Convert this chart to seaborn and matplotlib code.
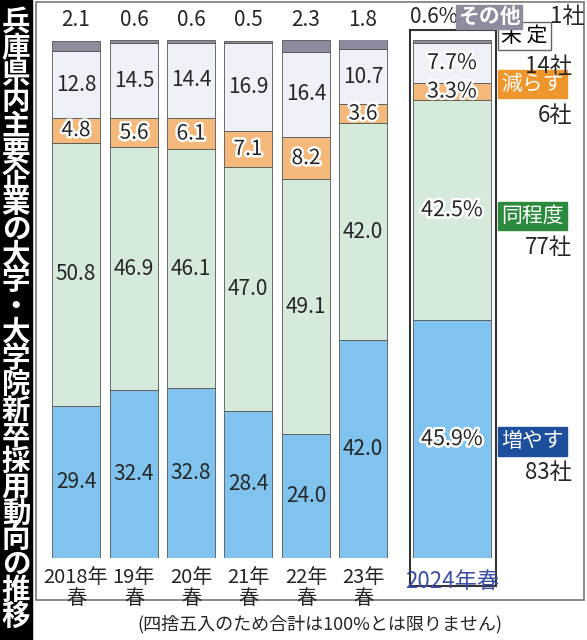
import numpy as np
import matplotlib.pyplot as plt
import matplotlib.patheffects as pe
import seaborn as sns

sns.set_style("white")
plt.rcParams['font.family'] = ['Noto Sans CJK JP', 'DejaVu Sans']

years = ["2018年\n春", "19年\n春", "20年\n春", "21年\n春", "22年\n春", "23年\n春"]
inc = [29.4, 32.4, 32.8, 28.4, 24.0, 42.0]
same = [50.8, 46.9, 46.1, 47.0, 49.1, 42.0]
dec = [4.8, 5.6, 6.1, 7.1, 8.2, 3.6]
undec = [12.8, 14.5, 14.4, 16.9, 16.4, 10.7]
other = [2.1, 0.6, 0.6, 0.5, 2.3, 1.8]
v2024 = [45.9, 42.5, 3.3, 7.7, 0.6]
n2024 = [83, 77, 6, 14, 1]
cats = ["増やす", "同程度", "減らす", "未定", "その他"]
colors = ["#80c3ee", "#d5eadb", "#f4b97a", "#eef1f8", "#8c8c9e"]
tagcol = ["#1d4f9c", "#2c8a3e", "#ee952b", "white", "#8c8c9e"]

fig = plt.figure(figsize=(5.87, 6.40), dpi=100)
bg = fig.add_axes([0, 0, 1, 1]); bg.set_xlim(0, 587); bg.set_ylim(640, 0); bg.axis("off")
bg.add_patch(plt.Rectangle((0, 0), 32, 640, color="black"))
bg.add_patch(plt.Rectangle((36, 2), 548, 598, fill=False, ec="#777", lw=1.2))
bg.add_patch(plt.Rectangle((410, 30), 86, 556, fill=False, ec="#333", lw=1.5))
title = "兵庫県内主要企業の大学・大学院新卒採用動向の推移"
bg.text(16, 320, "\n".join(title), color="white", fontsize=20.5, fontweight="bold",
        ha="center", va="center", linespacing=0.9)
bg.text(320, 624, "(四捨五入のため合計は100%とは限りません)", fontsize=13, ha="center", va="center")

ax = fig.add_axes([0, (640 - 558) / 640, 1, 518 / 640])
ax.set_xlim(0, 587); ax.set_ylim(0, 100); ax.axis("off")
stroke = [pe.withStroke(linewidth=3.5, foreground="white")]

xs = [76, 134, 191, 248, 306, 363]
series = [inc, same, dec, undec, other]
for i, x in enumerate(xs):
    b = 0
    for k, s in enumerate(series):
        v = s[i]
        ax.bar(x, v, bottom=b, width=48, color=colors[k], edgecolor="#555", lw=0.6)
        if k < 4:
            ax.text(x, b + v / 2, f"{v:.1f}", ha="center", va="center", fontsize=15,
                    path_effects=stroke if k == 2 else None, clip_on=False)
        b += v
    ax.text(x, 103.8, f"{other[i]:.1f}", ha="center", va="center", fontsize=15, clip_on=False)
    ax.text(x, -5.8, years[i], ha="center", va="center", fontsize=14.5, linespacing=0.95, clip_on=False)

x24 = 452
b = 0
for k, v in enumerate(v2024):
    ax.bar(x24, v, bottom=b, width=78, color=colors[k], edgecolor="#555", lw=0.6)
    if k < 4:
        ax.text(x24, b + v / 2, f"{v:.1f}%", ha="center", va="center", fontsize=15.5,
                path_effects=stroke, clip_on=False)
    b += v
ax.text(x24, -4.5, "2024年春", ha="center", va="center", fontsize=16, color="#3a4fa6", clip_on=False)

# right side tags
tag_y = [22.5, 66, 91.5, 100.8]
for k in range(4):
    y = tag_y[k]
    ax.text(501, y, cats[k].replace("未定", "未 定"), ha="left", va="center", fontsize=15,
            color="black" if k == 3 else "white", clip_on=False,
            bbox=dict(boxstyle="square,pad=0.15", fc=tagcol[k], ec="#666" if k == 3 else tagcol[k]))
    ax.text(572, y - 6, f"{n2024[k]}社", ha="right", va="center", fontsize=16, clip_on=False)
ax.text(410, 104.5, "0.6%", ha="left", va="center", fontsize=15, clip_on=False)
ax.text(458, 104.5, "その他", ha="left", va="center", fontsize=15, color="white", clip_on=False,
        fontweight="bold", bbox=dict(boxstyle="square,pad=0.08", fc=tagcol[4], ec=tagcol[4]))
ax.text(585, 104.5, "1社", ha="right", va="center", fontsize=16, clip_on=False)

fig.savefig("out.png", dpi=100)
